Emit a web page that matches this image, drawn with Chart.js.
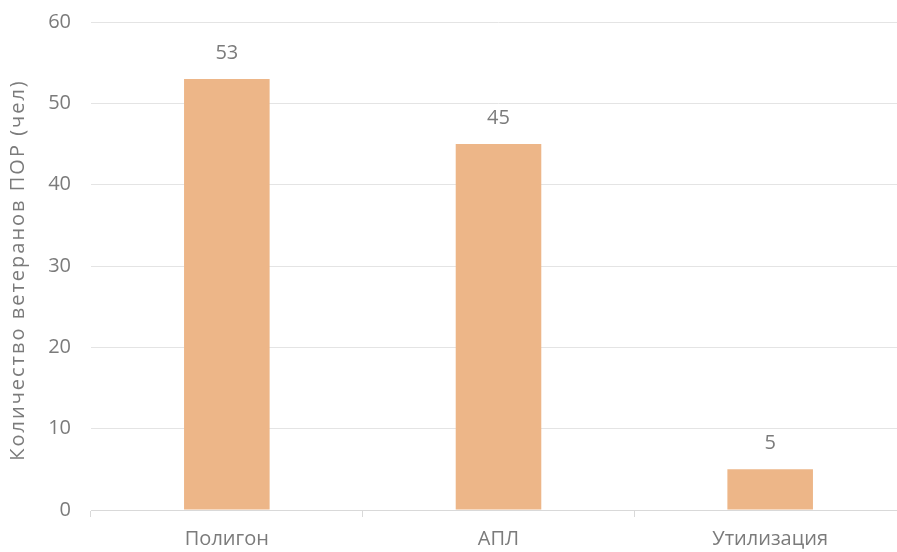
<!DOCTYPE html>
<html>
<head>
<meta charset="utf-8">
<script src="https://cdn.jsdelivr.net/npm/chart.js@4/dist/chart.umd.min.js"></script>
<style>
  html, body { margin: 0; padding: 0; background: #fff; overflow: hidden; }
  #wrap { width: 915px; height: 552px; }
</style>
</head>
<body>
<div id="wrap"><canvas id="chart" width="915" height="552"></canvas></div>
<script>
const categories = ["Полигон", "АПЛ", "Утилизация"];
const veterans = [53, 45, 5];
const yTicks = [0, 10, 20, 30, 40, 50, 60];
const yTitle = "Количество ветеранов ПОР (чел)";

const textColor = "#7b7b7b";
const fontFamily = "'Open Sans', sans-serif";

// value labels above the bars + spaced y title
const extraText = {
  id: "extraText",
  afterDatasetsDraw(chart) {
    const ctx = chart.ctx;
    const meta = chart.getDatasetMeta(0);
    ctx.save();
    ctx.fillStyle = textColor;
    ctx.font = "20px " + fontFamily;
    ctx.textAlign = "center";
    ctx.textBaseline = "middle";
    meta.data.forEach((bar, i) => {
      ctx.fillText(veterans[i], bar.x, bar.y - 26);
    });

    const area = chart.chartArea;
    ctx.translate(18, (area.top + area.bottom) / 2 + 4);
    ctx.rotate(-Math.PI / 2);
    ctx.letterSpacing = "2px";
    ctx.font = "20px " + fontFamily;
    ctx.fillText(yTitle, 0, 0);
    ctx.restore();
  }
};

new Chart(document.getElementById("chart"), {
  type: "bar",
  data: {
    labels: categories,
    datasets: [{
      data: veterans,
      backgroundColor: "#edb688",
      categoryPercentage: 1,
      barPercentage: 0.315
    }]
  },
  options: {
    responsive: false,
    animation: false,
    layout: { padding: { top: 22, right: 9, left: 0, bottom: 0 } },
    plugins: {
      legend: { display: false },
      tooltip: { enabled: false }
    },
    scales: {
      x: {
        grid: {
          offset: true,
          drawOnChartArea: false,
          drawTicks: true,
          tickLength: 7,
          color: "#d9d9d9"
        },
        border: { color: "#d9d9d9" },
        ticks: {
          color: textColor,
          font: { family: fontFamily, size: 20 },
          padding: 10
        },
        afterFit: s => { s.height = 42; s.paddingLeft = 0; s.paddingRight = 0; }
      },
      y: {
        min: 0,
        max: 60,
        afterBuildTicks: s => { s.ticks = yTicks.map(v => ({ value: v })); },
        grid: { color: "#e4e4e4", drawTicks: false },
        border: { display: false },
        ticks: {
          color: textColor,
          font: { family: fontFamily, size: 20 },
          padding: 20
        },
        afterFit: s => { s.width = 91; s.paddingTop = 0; s.paddingBottom = 0; }
      }
    }
  },
  plugins: [extraText]
});
</script>
</body>
</html>
